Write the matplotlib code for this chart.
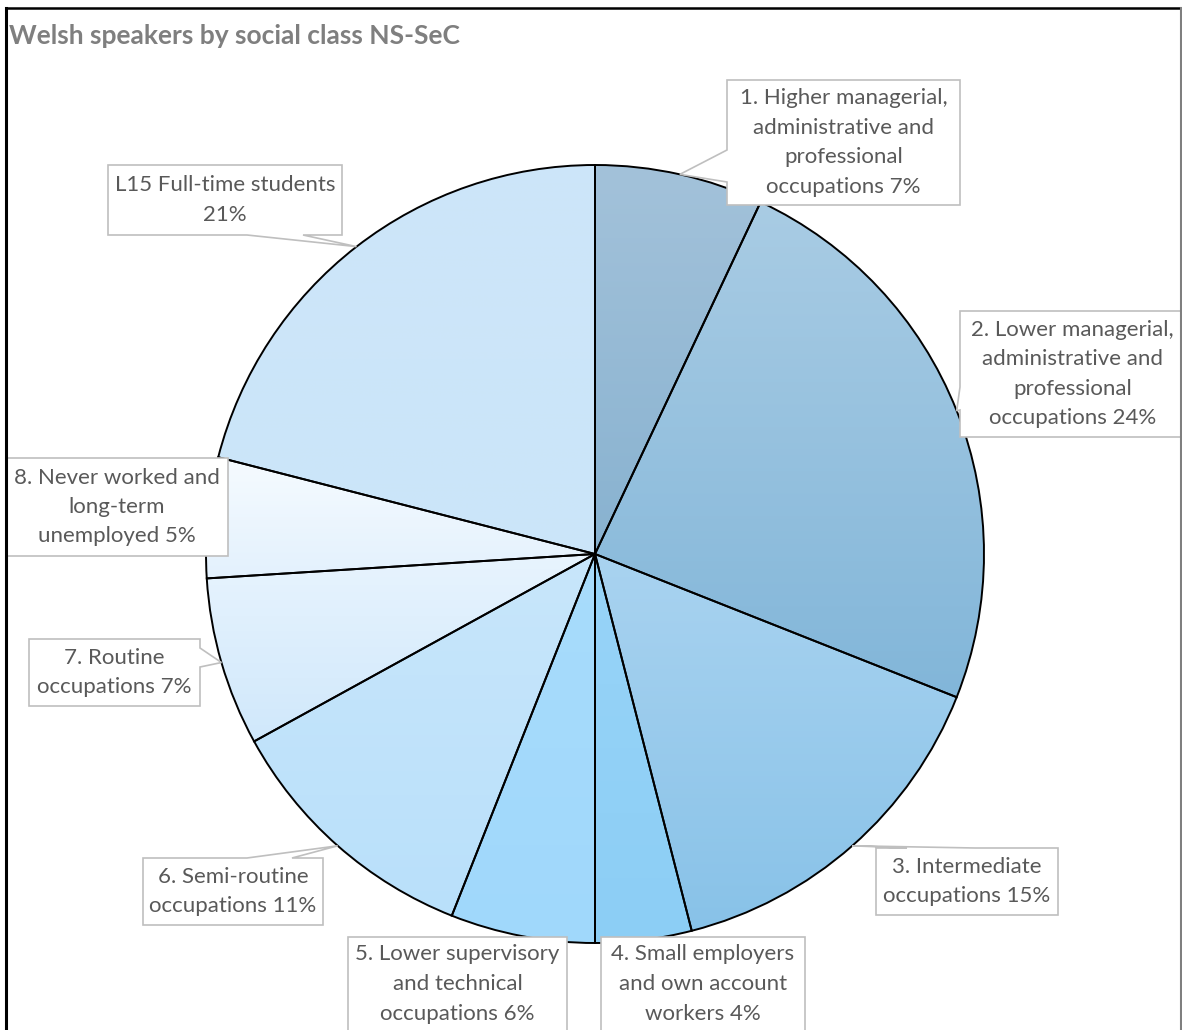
import numpy as np
import matplotlib
matplotlib.use("Agg")
import matplotlib.pyplot as plt
from matplotlib.patches import Polygon
from matplotlib.colors import to_rgb

plt.rcParams["font.family"] = ["Lato", "DejaVu Sans"]

# data
categories = [
    "1. Higher managerial,\nadministrative and\nprofessional\noccupations",
    "2. Lower managerial,\nadministrative and\nprofessional\noccupations",
    "3. Intermediate\noccupations",
    "4. Small employers\nand own account\nworkers",
    "5. Lower supervisory\nand technical\noccupations",
    "6. Semi-routine\noccupations",
    "7. Routine\noccupations",
    "8. Never worked and\nlong-term\nunemployed",
    "L15 Full-time students\n",
]
values = [7, 24, 15, 4, 6, 11, 7, 5, 21]

# gradient fills, top -> bottom of each slice
grad_top = ["#A3C2DA", "#A9CCE4", "#A9D3F0", "#98D4F8", "#A8DCFC",
            "#C8E6FB", "#E8F4FE", "#F6FBFF", "#CDE6F9"]
grad_bottom = ["#88B2D0", "#82B6D9", "#88C2E8", "#8CCEF5", "#A0D8FB",
               "#B9E0FA", "#D0E8FB", "#E3F1FD", "#CBE5F9"]

# layout (pixel coords, y down): label boxes l, t, r, b and pointer base
W, H = 1182, 1030
boxes = [(727, 80, 960, 205), (960, 311, 1185, 437), (876, 848, 1058, 915),
         (601, 937, 805, 1031), (348, 937, 567, 1031), (143, 858, 323, 925),
         (29, 639, 200, 706), (6, 458, 228, 556), (108, 165, 342, 235)]
pointers = [("left", 150, 182), ("left", 387, 410), ("top", 907, 975),
            None, None, ("top", 247, 292), ("right", 648, 667), None,
            ("bottom", 247, 303)]
cx, cy, R = 595, 554, 389


def Y(y):
    return H - y


def callout(l, t, r, b, ptr, tip):
    if ptr is None:
        return [(l, t), (r, t), (r, b), (l, b)]
    edge, s1, s2 = ptr
    pts = [(l, t)]
    if edge == "top":
        pts += [(s1, t), tip, (s2, t)]
    pts += [(r, t)]
    if edge == "right":
        pts += [(r, s1), tip, (r, s2)]
    pts += [(r, b)]
    if edge == "bottom":
        pts += [(s2, b), tip, (s1, b)]
    pts += [(l, b)]
    if edge == "left":
        pts += [(l, s2), tip, (l, s1)]
    return pts


fig = plt.figure(figsize=(W / 100, H / 100), dpi=100)
ax = fig.add_axes([0, 0, 1, 1])

wedges, _ = ax.pie(values, startangle=90, counterclock=False,
                   center=(cx, Y(cy)), radius=R,
                   wedgeprops=dict(facecolor="none", edgecolor="black",
                                   linewidth=1.4, zorder=3))

for w, top, bot in zip(wedges, grad_top, grad_bottom):
    bb = w.get_path().get_extents()
    t = np.linspace(0, 1, 256)[:, None, None]
    img = (1 - t) * np.array(to_rgb(top)) + t * np.array(to_rgb(bot))
    im = ax.imshow(img, extent=(bb.x0, bb.x1, bb.y0, bb.y1), origin="upper",
                   aspect="auto", zorder=2, interpolation="bilinear")
    im.set_clip_path(w)

for i, w in enumerate(wedges):
    mid = np.deg2rad((w.theta1 + w.theta2) / 2)
    tip = (cx + R * np.cos(mid), cy - R * np.sin(mid))
    l, t, r, b = boxes[i]
    verts = callout(l, t, r, b, pointers[i], tip)
    ax.add_patch(Polygon([(x, Y(y)) for x, y in verts], closed=True,
                         fc="white", ec="#BFBFBF", lw=1.2, zorder=5))
    name = categories[i]
    label = name + ("" if name.endswith("\n") else " ") + f"{values[i]}%"
    lines = label.split("\n")
    n = len(lines)
    xm, ym = (l + r) / 2, (t + b) / 2
    for k, s in enumerate(lines):
        ax.text(xm, Y(ym + (k - (n - 1) / 2) * 29.5), s, ha="center",
                va="center", fontsize=16, color="#595959", zorder=6)

ax.text(9, Y(36), "Welsh speakers by social class NS-SeC", ha="left",
        va="center", fontsize=19, fontweight="bold", color="#7F7F7F")

# chart border
ax.plot([6, 1181], [Y(8), Y(8)], color="black", lw=1.8, zorder=7)
ax.plot([6, 6], [Y(8), Y(1030)], color="black", lw=2.2, zorder=7)
ax.plot([1181, 1181], [Y(8), Y(1030)], color="#7F7F7F", lw=1.5, zorder=7)

ax.set_xlim(0, W)
ax.set_ylim(0, H)
ax.axis("off")
fig.savefig("out.png", dpi=100)
